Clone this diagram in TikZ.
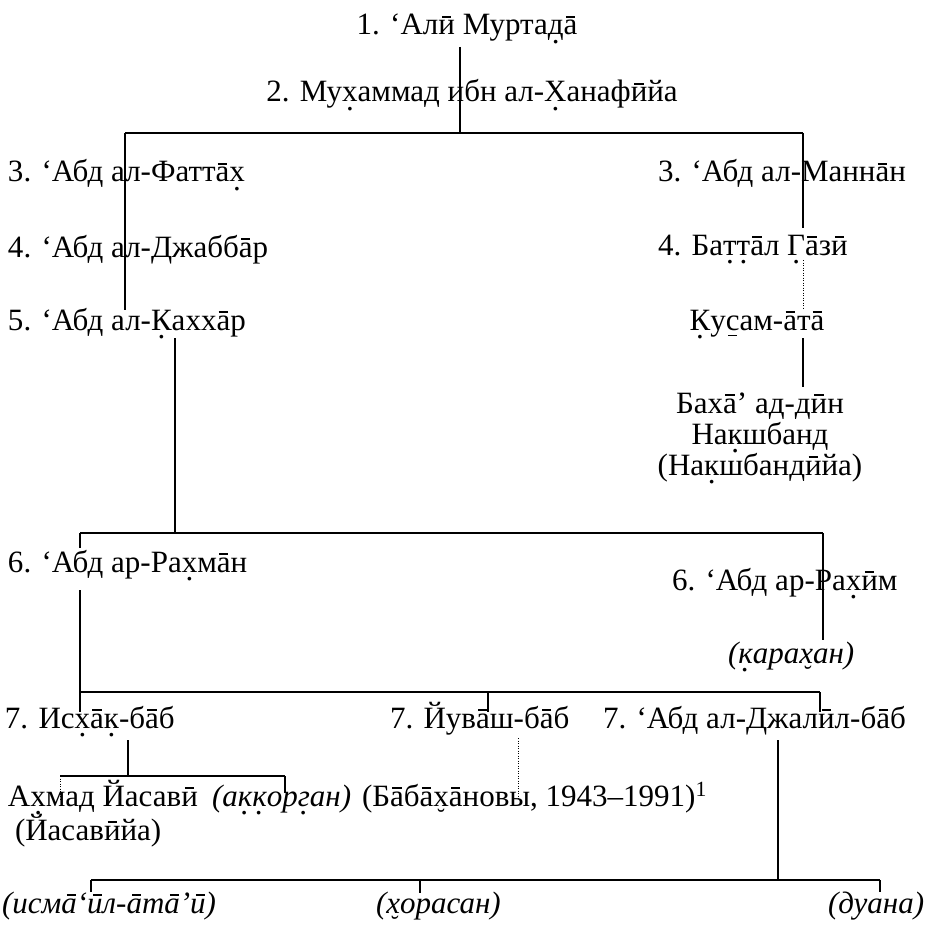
\documentclass[tikz,border=0pt]{standalone}
\usepackage{fontspec}
\setmainfont{Liberation Serif}
\usepackage{graphicx}
\newcommand\Dt[1]{\ooalign{#1\cr\hidewidth\raisebox{-0.28em}[0pt][0pt]{.}\hidewidth\cr}}
\newcommand\Mc[1]{\ooalign{#1\cr\hidewidth\raisebox{0.56em}[0pt][0pt]{\rule{0.3em}{0.045em}}\hidewidth\cr}}
\newcommand\Mci[1]{\ooalign{#1\cr\hidewidth\kern0.16em\raisebox{0.56em}[0pt][0pt]{\rule{0.3em}{0.045em}}\hidewidth\cr}}
\newcommand\Mb[1]{\ooalign{#1\cr\hidewidth\raisebox{-0.2em}[0pt][0pt]{\rule{0.3em}{0.045em}}\hidewidth\cr}}
\newcommand\Bv[1]{\ooalign{#1\cr\hidewidth\raisebox{-0.62em}[0pt][0pt]{\fontsize{24}{24}\selectfont ˘}\hidewidth\cr}}
\begin{document}
\begin{tikzpicture}[x=1pt,y=-1pt,
  every node/.style={font=\fontsize{31}{31}\selectfont, inner sep=0pt, outer sep=0pt},
  ln/.style={line width=1.1pt},
  dl/.style={line width=1pt, dash pattern=on 1pt off 1.5pt}]
\useasboundingbox (0,0) rectangle (929,933);
% nodes
\node[anchor=base] (n1) at (467,35) {1. ‘Ал\Mc{и} Мурта\Dt{д}\Mc{а}};
\node[anchor=base] (n2) at (472,102) {2. Му\Dt{х}аммад ибн ал-\Dt{Х}анаф\Mc{и}йа};
\node[anchor=base west] (n3a) at (8,182) {3. ‘Абд ал-Фатт\Mc{а}\Dt{х}};
\node[anchor=base west] (n4a) at (8,257) {4. ‘Абд ал-Джабб\Mc{а}р};
\node[anchor=base west] (n5a) at (8,330) {5. ‘Абд ал-\Dt{К}ахх\Mc{а}р};
\node[anchor=base west] (n3b) at (658,182) {3. ‘Абд ал-Манн\Mc{а}н};
\node[anchor=base west] (n4b) at (658,255) {4. Ба\Dt{т}\Dt{т}\Mc{а}л \Dt{Г}\Mc{а}з\Mc{и}};
\node[anchor=base] (n5b) at (757,330) {\Dt{К}у\Mb{с}ам-\Mc{а}т\Mc{а}};
\node[align=center] (nbh) at (760,437) {Бах\Mc{а}’ ад-д\Mc{и}н\\На\Dt{к}шбанд\\(На\Dt{к}шбанд\Mc{и}йа)};
\node[anchor=base west] (n6a) at (8,572) {6. ‘Абд ар-Ра\Dt{х}м\Mc{а}н};
\node[anchor=base west] (n6b) at (672,590) {6. ‘Абд ар-Ра\Dt{х}\Mc{и}м};
\node[anchor=base west] (nkr) at (728,663) {\itshape (\Dt{к}ара\Bv{х}ан)};
\node[anchor=base west] (n7a) at (5,728) {7. Ис\Dt{х}\Mc{а}\Dt{к}-б\Mc{а}б};
\node[anchor=base west] (n7b) at (390,728) {7. Йув\Mc{а}ш-б\Mc{а}б};
\node[anchor=base west] (n7c) at (603,728) {7. ‘Абд ал-Джал\Mc{и}л-б\Mc{а}б};
\node[anchor=base west, align=left, font=\fontsize{31}{34}\selectfont] (nah) at (8,840) {А\Dt{х}мад Йасав\Mc{и}\\\hspace*{7pt}(Йасав\Mc{и}йа)};
\node[anchor=base west] (nak) at (212,806) {\itshape (а\Dt{к}\Dt{к}ор\Dt{г}ан)};
\node[anchor=base west] (nbb) at (362,806) {(Б\Mc{а}б\Mc{а}\Bv{х}\Mc{а}новы, 1943–1991)\textsuperscript{1}};
\node[anchor=base west] (nis) at (2,913) {\itshape (исм\Mci{а}‘\Mci{и}л-\Mci{а}т\Mci{а}’\Mci{и})};
\node[anchor=base west] (nho) at (376,913) {\itshape (\Bv{х}орасан)};
\node[anchor=base west] (ndu) at (828,913) {\itshape (дуана)};
% coordinates
\coordinate (a1) at (460,47);
\coordinate (b1m) at (460,133);
\coordinate (b1l) at (125,133);
\coordinate (b1r) at (803,133);
\coordinate (e3a) at (125,310);
\coordinate (e3b) at (803,228);
\coordinate (s4b) at (803,260);
\coordinate (e4b) at (803,308);
\coordinate (s5b) at (803,338);
\coordinate (e5b) at (803,387);
\coordinate (s5a) at (175,338);
\coordinate (b2m) at (175,533);
\coordinate (b2l) at (80,533);
\coordinate (b2r) at (823,533);
\coordinate (e6a) at (80,548);
\coordinate (s6a) at (80,590);
\coordinate (e6b) at (823,640);
\coordinate (b3l) at (80,692);
\coordinate (b3m) at (488,692);
\coordinate (b3r) at (820,692);
\coordinate (t7a) at (80,712);
\coordinate (t7b) at (488,712);
\coordinate (t7c) at (820,712);
\coordinate (s7a) at (128,740);
\coordinate (b4m) at (128,776);
\coordinate (b4l) at (60,776);
\coordinate (b4r) at (285,776);
\coordinate (tak) at (285,793);
\coordinate (tah) at (60,800);
\coordinate (s7b) at (518,738);
\coordinate (tbb) at (518,800);
\coordinate (s7c) at (778,740);
\coordinate (b5m) at (778,880);
\coordinate (b5l) at (91,880);
\coordinate (b5c) at (420,880);
\coordinate (b5r) at (880,880);
\coordinate (tis) at (91,892);
\coordinate (tho) at (420,893);
\coordinate (tdu) at (880,892);
% connectors
\draw[ln] (a1) -- (b1m);
\draw[ln] (b1l) -- (b1r);
\draw[ln] (b1l) -- (e3a);
\draw[ln] (b1r) -- (e3b);
\draw[dl] (s4b) -- (e4b);
\draw[ln] (s5b) -- (e5b);
\draw[ln] (s5a) -- (b2m);
\draw[ln] (b2l) -- (b2r);
\draw[ln] (b2l) -- (e6a);
\draw[ln] (s6a) -- (t7a);
\draw[ln] (b2r) -- (e6b);
\draw[ln] (b3l) -- (b3r);
\draw[ln] (b3m) -- (t7b);
\draw[ln] (b3r) -- (t7c);
\draw[ln] (s7a) -- (b4m);
\draw[ln] (b4l) -- (b4r);
\draw[ln] (b4r) -- (tak);
\draw[dl] (b4l) -- (tah);
\draw[dl] (s7b) -- (tbb);
\draw[ln] (s7c) -- (b5m);
\draw[ln] (b5l) -- (b5r);
\draw[ln] (b5l) -- (tis);
\draw[ln] (b5c) -- (tho);
\draw[ln] (b5r) -- (tdu);
\end{tikzpicture}
\end{document}
